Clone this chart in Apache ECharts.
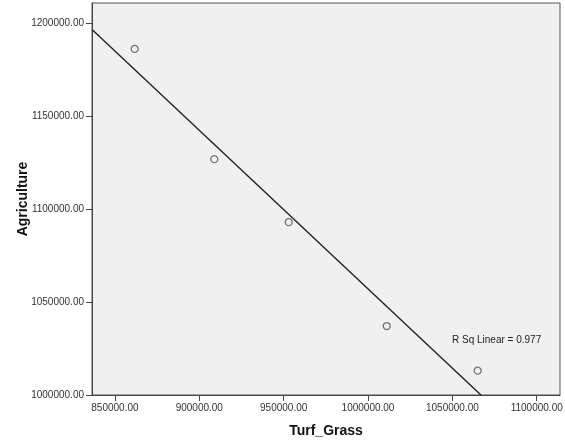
<!DOCTYPE html>
<html>
<head>
<meta charset="utf-8">
<script src="https://cdn.jsdelivr.net/npm/echarts@6/dist/echarts.min.js"></script>
<style>
  html, body { margin: 0; padding: 0; background: #fff; }
  #chart { width: 565px; height: 440px; }
</style>
</head>
<body>
<div id="chart"></div>
<script>
// data
let turfGrass = [861700, 908900, 953000, 1011100, 1065000];
let agriculture = [1186200, 1126900, 1093000, 1037100, 1013100];
let xTicks = [850000, 900000, 950000, 1000000, 1050000, 1100000];
let yTicks = [1000000, 1050000, 1100000, 1150000, 1200000];

let xMin = 836400, xMax = 1113800;
let yMin = 1000000, yMax = 1210900;

let chart = echarts.init(document.getElementById("chart"));

/* linear fit */
function fitLine(xs, ys) {
    let n = xs.length;
    let mx = xs.reduce((a, b) => a + b, 0) / n;
    let my = ys.reduce((a, b) => a + b, 0) / n;
    let sxy = 0, sxx = 0, syy = 0;
    xs.forEach((x, i) => {
        sxy += (x - mx) * (ys[i] - my);
        sxx += (x - mx) * (x - mx);
        syy += (ys[i] - my) * (ys[i] - my);
    });
    let b = sxy / sxx;
    return { a: my - b * mx, b: b, r2: (sxy * sxy) / (sxx * syy) };
}
let fit = fitLine(turfGrass, agriculture);
// clip line to plot box
let x0 = xMin, y0 = fit.a + fit.b * x0;
if (y0 > yMax) { y0 = yMax; x0 = (yMax - fit.a) / fit.b; }
let x1 = (yMin - fit.a) / fit.b, y1 = yMin;
if (x1 > xMax) { x1 = xMax; y1 = fit.a + fit.b * x1; }

let points = turfGrass.map((x, i) => [x, agriculture[i]]);
let labelStyle = { color: "#333", fontSize: 10, fontFamily: "Liberation Sans" };

chart.setOption({
    backgroundColor: "#fff",
    animation: false,
    grid: {
        left: 92, right: 5, top: 3, bottom: 45,
        outerBoundsMode: "none",
        containLabel: false,
        show: true,
        backgroundColor: "#f0f0f0",
        borderColor: "#555",
        borderWidth: 1
    },
    xAxis: {
        type: "value",
        min: xMin, max: xMax,
        name: "Turf_Grass",
        nameLocation: "middle",
        nameGap: 29,
        nameMoveOverlap: false,
        nameTextStyle: { fontSize: 14, fontWeight: "bold", color: "#111", fontFamily: "Liberation Sans" },
        splitLine: { show: false },
        axisLine: { lineStyle: { color: "#444" } },
        axisTick: { show: true, inside: false, length: 6, lineStyle: { color: "#444" }, customValues: xTicks },
        axisLabel: Object.assign({ margin: 8, customValues: xTicks, formatter: v => v.toFixed(2) }, labelStyle)
    },
    yAxis: {
        type: "value",
        min: yMin, max: yMax,
        name: "Agriculture",
        nameLocation: "middle",
        nameGap: 62,
        nameMoveOverlap: false,
        nameTextStyle: { fontSize: 14, fontWeight: "bold", color: "#111", fontFamily: "Liberation Sans" },
        splitLine: { show: false },
        axisLine: { show: true, lineStyle: { color: "#444" } },
        axisTick: { show: true, inside: false, length: 6, lineStyle: { color: "#444" }, customValues: yTicks },
        axisLabel: Object.assign({ margin: 8, customValues: yTicks, formatter: v => v.toFixed(2) }, labelStyle)
    },
    series: [
        {
            type: "line",
            data: [[x0, y0], [x1, y1]],
            symbol: "none",
            lineStyle: { color: "#222", width: 1.4 },
            silent: true
        },
        {
            type: "scatter",
            data: points,
            symbol: "circle",
            symbolSize: 7,
            itemStyle: { color: "transparent", borderColor: "#555", borderWidth: 1.3 }
        }
    ],
    graphic: [{
        type: "text",
        left: 452, top: 335,
        style: { text: "R Sq Linear = " + fit.r2.toFixed(3), fill: "#222", fontSize: 10, fontFamily: "Liberation Sans" }
    }]
});

window.addEventListener("resize", function () {
    chart.resize();
});
</script>
</body>
</html>
